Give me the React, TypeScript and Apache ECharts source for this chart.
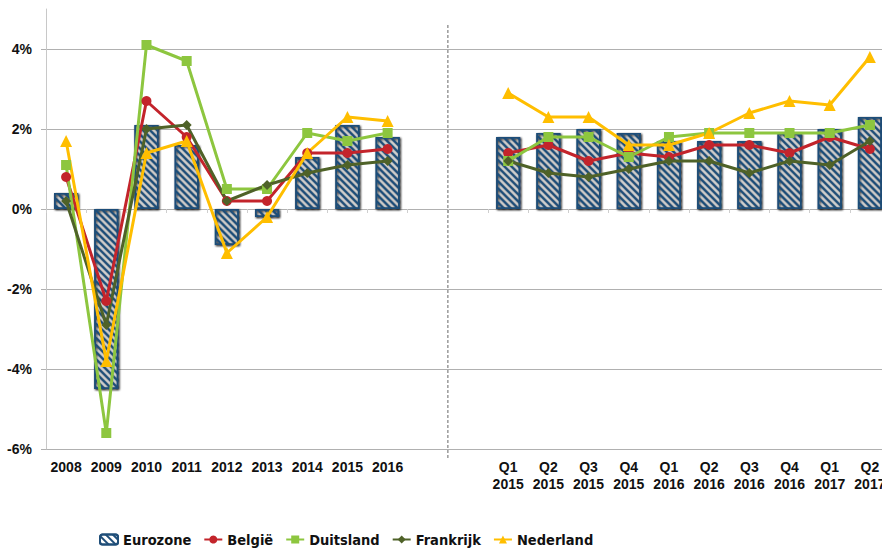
import React, { useEffect, useRef } from "react";
import * as echarts from "echarts";

const years = ["2008", "2009", "2010", "2011", "2012", "2013", "2014", "2015", "2016"];
const gapCategories = ["", " "];
const quarters = [
  "Q1\n2015", "Q2\n2015", "Q3\n2015", "Q4\n2015",
  "Q1\n2016", "Q2\n2016", "Q3\n2016", "Q4\n2016",
  "Q1\n2017", "Q2\n2017",
];
const categories = [...years, ...gapCategories, ...quarters];

const eurozoneYears = [0.4, -4.5, 2.1, 1.6, -0.9, -0.2, 1.3, 2.1, 1.8];
const eurozoneQuarters = [1.8, 1.9, 2.0, 1.9, 1.7, 1.7, 1.7, 1.9, 2.0, 2.3];

const belgieYears = [0.8, -2.3, 2.7, 1.8, 0.2, 0.2, 1.4, 1.4, 1.5];
const belgieQuarters = [1.4, 1.6, 1.2, 1.4, 1.3, 1.6, 1.6, 1.4, 1.8, 1.5];

const duitslandYears = [1.1, -5.6, 4.1, 3.7, 0.5, 0.5, 1.9, 1.7, 1.9];
const duitslandQuarters = [1.2, 1.8, 1.8, 1.3, 1.8, 1.9, 1.9, 1.9, 1.9, 2.1];

const frankrijkYears = [0.2, -2.9, 2.0, 2.1, 0.2, 0.6, 0.9, 1.1, 1.2];
const frankrijkQuarters = [1.2, 0.9, 0.8, 1.0, 1.2, 1.2, 0.9, 1.2, 1.1, 1.7];

const nederlandYears = [1.7, -3.8, 1.4, 1.7, -1.1, -0.2, 1.4, 2.3, 2.2];
const nederlandQuarters = [2.9, 2.3, 2.3, 1.6, 1.6, 1.9, 2.4, 2.7, 2.6, 3.8];

const yTicks = { min: -6, max: 5, interval: 2 };

const join = (a: number[], b: number[]) => [...a, null, null, ...b];

export default function App() {
  const ref = useRef<HTMLDivElement>(null);
  useEffect(() => {
    if (!ref.current) return;
    const chart = echarts.init(ref.current, null, { renderer: "svg" });
    const labelFont = {
      fontFamily: "'Liberation Sans', Arial, sans-serif",
      fontWeight: "bold" as const,
      fontSize: 14,
      color: "#111",
    };
    const lineSeries = (name: string, data: (number | null)[], color: string, symbol: string, size: number) => ({
      name,
      type: "line",
      data,
      xAxisIndex: 0,
      yAxisIndex: 0,
      symbol,
      symbolSize: size,
      connectNulls: false,
      lineStyle: { color, width: 3 },
      itemStyle: { color },
      z: 3,
    });
    chart.setOption({
      animation: false,
      backgroundColor: "#fff",
      grid: { left: 46, right: 0, top: 9, bottom: 103, containLabel: false },
      legend: {
        left: 94,
        top: 527,
        itemWidth: 18,
        itemHeight: 10,
        itemGap: 12,
        textStyle: {
          fontFamily: "'DejaVu Sans Condensed', 'Liberation Sans Narrow', sans-serif",
          fontWeight: "bold",
          fontSize: 14.5,
          color: "#111",
        },
        data: [
          { name: "Eurozone" },
          { name: "België" },
          { name: "Duitsland" },
          { name: "Frankrijk" },
          { name: "Nederland" },
        ],
      },
      xAxis: [
        {
          type: "category",
          data: categories,
          position: "bottom",
          axisLine: { show: false, onZero: false },
          axisTick: { show: false },
          axisLabel: { ...labelFont, margin: 9, lineHeight: 17, interval: 0 },
          splitLine: { show: false },
        },
        {
          type: "category",
          data: categories,
          position: "bottom",
          axisLine: { show: true, onZero: true, lineStyle: { color: "#b0b0b0", width: 1 } },
          axisTick: { show: true, length: 4, interval: 0, lineStyle: { color: "#cfcfcf" } },
          axisLabel: { show: false },
          splitLine: { show: false },
        },
      ],
      yAxis: {
        type: "value",
        min: yTicks.min,
        max: yTicks.max,
        interval: yTicks.interval,
        axisLine: { show: true, lineStyle: { color: "#c8c8c8" } },
        axisTick: { show: true, length: 5, lineStyle: { color: "#b0b0b0" } },
        axisLabel: { ...labelFont, margin: 14, showMaxLabel: false, formatter: (v: number) => `${v}%` },
        splitLine: { show: true, showMaxLine: false, lineStyle: { color: "#b0b0b0", width: 1 } },
      },
      series: [
        {
          name: "Eurozone",
          type: "bar",
          data: join(eurozoneYears, eurozoneQuarters),
          xAxisIndex: 0,
          yAxisIndex: 0,
          barWidth: 24,
          itemStyle: {
            color: "#ffffff",
            borderColor: "#1F4E79",
            borderWidth: 1.5,
            shadowColor: "rgba(0,0,0,0.25)",
            shadowBlur: 2,
            shadowOffsetX: 1,
            shadowOffsetY: 1,
            decal: {
              symbol: "rect",
              symbolSize: 1,
              dashArrayX: [1, 0],
              dashArrayY: [1.3, 2.7],
              rotation: Math.PI / 4,
              color: "#1F4E79",
            },
          },
          z: 2,
        },
        lineSeries("België", join(belgieYears, belgieQuarters), "#C3242B", "circle", 10),
        lineSeries("Duitsland", join(duitslandYears, duitslandQuarters), "#8DC63F", "rect", 10),
        lineSeries("Frankrijk", join(frankrijkYears, frankrijkQuarters), "#4F6228", "diamond", 10),
        lineSeries("Nederland", join(nederlandYears, nederlandQuarters), "#FFBE00", "triangle", 12),
      ],
    });

    const addDivider = () => {
      const xa = chart.convertToPixel({ xAxisIndex: 0 }, years.length) as number;
      const xb = chart.convertToPixel({ xAxisIndex: 0 }, years.length + 1) as number;
      const x = (xa + xb) / 2;
      const yTop = chart.convertToPixel({ yAxisIndex: 0 }, 4.6) as number;
      const yBottom = (chart.convertToPixel({ yAxisIndex: 0 }, yTicks.min) as number) + 11;
      chart.setOption({
        graphic: [
          {
            type: "line",
            shape: { x1: x, y1: yTop, x2: x, y2: yBottom },
            style: { stroke: "#666", lineWidth: 1, lineDash: [3, 2] },
            z: 1,
          },
        ],
      });
    };
    addDivider();

    return () => chart.dispose();
  }, []);
  return (
    <div style={{ position: "absolute", left: 0, top: 0, width: 882, height: 552, overflow: "hidden" }}>
      <div ref={ref} style={{ width: 890, height: 552, position: "absolute", left: 0, top: 0 }} />
    </div>
  );
}
